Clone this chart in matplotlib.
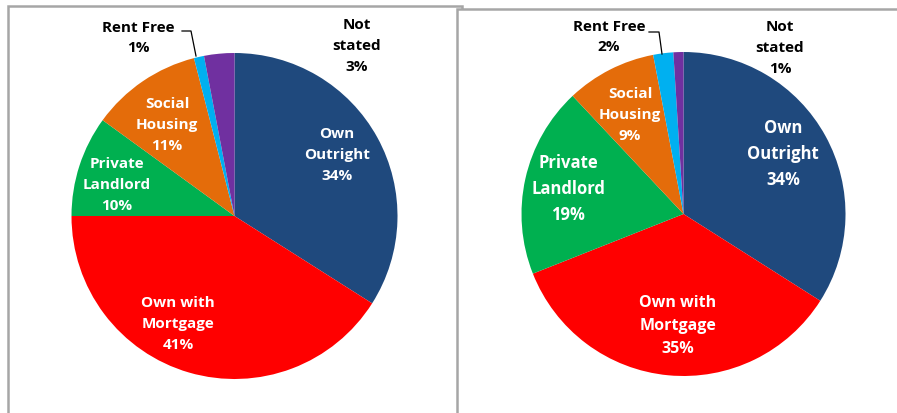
import matplotlib.pyplot as plt
from matplotlib.patches import Rectangle

# tenure split, left and right charts
categories = ["Own Outright", "Own with Mortgage", "Private Landlord",
              "Social Housing", "Rent Free", "Not stated"]
left_values = [34, 41, 10, 11, 1, 3]
right_values = [34, 35, 19, 9, 2, 1]
colors = ["#1F497D", "#FF0000", "#00B050", "#E46C0A", "#00B0F0", "#7030A0"]

W, H = 897, 414
plt.rcParams['font.family'] = ['Open Sans', 'DejaVu Sans']

fig = plt.figure(figsize=(W / 100, H / 100), dpi=100)
ax = fig.add_axes([0, 0, 1, 1])


def py(y):
    # pixel row (from top) -> data y
    return H - y


# frames
ax.add_patch(Rectangle((8, py(430)), 454, 423, facecolor='white',
                       edgecolor='#A6A6A6', linewidth=1.8, zorder=0))
ax.add_patch(Rectangle((457, py(430)), 460, 420, facecolor='white',
                       edgecolor='#A6A6A6', linewidth=1.8, zorder=1))


def draw_pie(values, center, radius, labels, rent_line):
    wedges, _ = ax.pie(values, colors=colors, startangle=90, counterclock=False,
                       center=center, radius=radius, frame=True,
                       wedgeprops=dict(edgecolor='none'))
    for w in wedges:
        w.set_zorder(2)
    for (x, y, txt, col, fs) in labels:
        ax.text(x, py(y), txt, ha='center', va='center', color=col,
                fontsize=fs, fontweight='bold', linespacing=1.6, zorder=3)
    xs, ys = zip(*rent_line)
    ax.plot(xs, [py(v) for v in ys], color='black', linewidth=0.9, zorder=3)


draw_pie(left_values, (234.5, py(217)), 163,
         [(337, 155, f"Own\nOutright\n{left_values[0]}%", 'white', 11),
          (178, 324, f"Own with\nMortgage\n{left_values[1]}%", 'white', 11),
          (117, 185, f"Private\nLandlord\n{left_values[2]}%", 'white', 11),
          (167, 125, f"Social\nHousing\n{left_values[3]}%", 'white', 11),
          (138, 38, f"Rent Free\n{left_values[4]}%", 'black', 11),
          (357, 46, f"Not\nstated\n{left_values[5]}%", 'black', 11)],
         [(182, 32), (191, 32), (196, 57)])

draw_pie(right_values, (683.5, py(215)), 162,
         [(783, 154, f"Own\nOutright\n{right_values[0]}%", 'white', 12),
          (678, 326, f"Own with\nMortgage\n{right_values[1]}%", 'white', 11.5),
          (568, 189, f"Private\nLandlord\n{right_values[2]}%", 'white', 12),
          (630, 115, f"Social\nHousing\n{right_values[3]}%", 'white', 11),
          (609, 37, f"Rent Free\n{right_values[4]}%", 'black', 11),
          (780, 48, f"Not\nstated\n{right_values[5]}%", 'black', 11)],
         [(649, 33), (659, 33), (662, 55)])

ax.set_xlim(0, W)
ax.set_ylim(0, H)
ax.set_aspect('equal')
ax.axis('off')

fig.savefig("out.png", dpi=100)
